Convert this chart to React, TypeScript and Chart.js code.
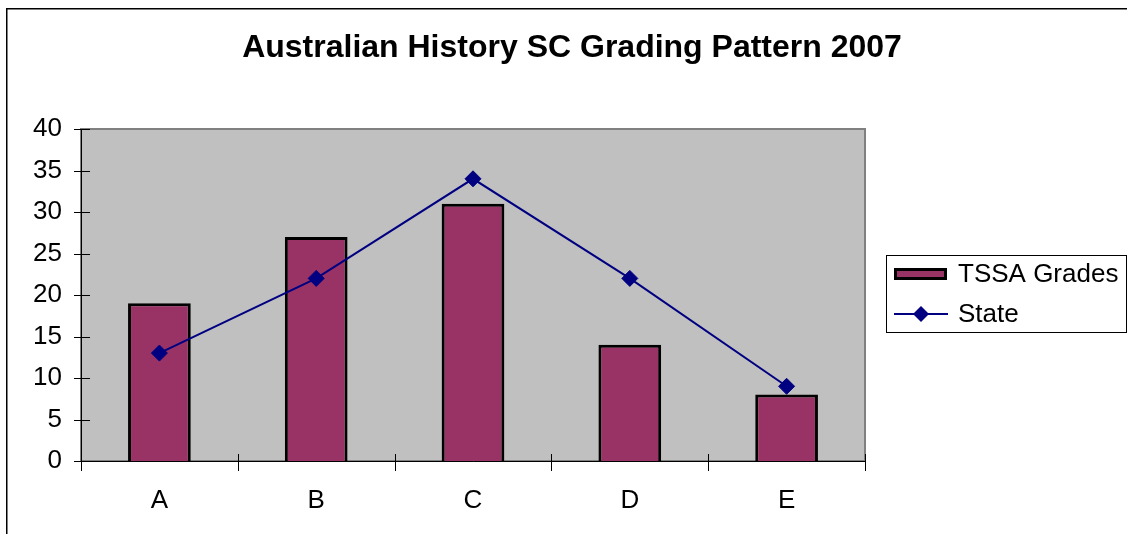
import React, { useEffect, useRef } from "react";
import { Chart, registerables } from "chart.js";

Chart.register(...registerables);

const TITLE = "Australian History SC Grading Pattern 2007";
const categories = ["A", "B", "C", "D", "E"];
const tssaGrades = [19, 27, 31, 14, 8];
const stateValues = [13, 22, 34, 22, 9];
const yTicks = [0, 5, 10, 15, 20, 25, 30, 35, 40];

const FONT = "'Liberation Sans', Arial, sans-serif";
const BAR_COLOR = "#993366";
const LINE_COLOR = "#000080";

const decorPlugin = {
  id: "decor",
  beforeDraw(chart: any) {
    const ctx = chart.ctx;
    const a = chart.chartArea;
    ctx.save();
    ctx.fillStyle = "#ffffff";
    ctx.fillRect(0, 0, chart.width, chart.height);
    // outer frame
    ctx.fillStyle = "#000000";
    ctx.fillRect(6, 8, 1.5, chart.height);
    ctx.fillRect(6, 8, chart.width, 1.5);
    // plot area
    ctx.fillStyle = "#C0C0C0";
    ctx.fillRect(a.left, a.top, a.right - a.left, a.bottom - a.top);
    ctx.strokeStyle = "#808080";
    ctx.lineWidth = 2;
    ctx.strokeRect(a.left, a.top, a.right - a.left, a.bottom - a.top);
    // title
    ctx.fillStyle = "#000000";
    ctx.font = `bold 32px ${FONT}`;
    ctx.textAlign = "center";
    ctx.textBaseline = "alphabetic";
    ctx.fillText(TITLE, 572, 57);
    ctx.restore();
  },
  afterDatasetsDraw(chart: any) {
    const ctx = chart.ctx;
    const a = chart.chartArea;
    const ys = chart.scales.y;
    const n = categories.length;
    ctx.save();
    ctx.strokeStyle = "#000000";
    ctx.lineWidth = 1;
    ctx.beginPath();
    ctx.moveTo(a.left + 0.5, a.top);
    ctx.lineTo(a.left + 0.5, a.bottom + 0.5);
    ctx.lineTo(a.right, a.bottom + 0.5);
    for (const v of yTicks) {
      const y = Math.round(ys.getPixelForValue(v)) + 0.5;
      ctx.moveTo(a.left - 7, y);
      ctx.lineTo(a.left + 9, y);
    }
    for (let i = 0; i <= n; i++) {
      const x = Math.round(a.left + (i * (a.right - a.left)) / n) + 0.5;
      ctx.moveTo(x, a.bottom - 7);
      ctx.lineTo(x, a.bottom + 10);
    }
    ctx.stroke();
    ctx.restore();
  },
  afterDraw(chart: any) {
    const ctx = chart.ctx;
    ctx.save();
    // legend box
    ctx.strokeStyle = "#000000";
    ctx.lineWidth = 1;
    ctx.strokeRect(886.5, 255.5, 240, 77);
    // bar swatch
    ctx.fillStyle = BAR_COLOR;
    ctx.fillRect(894, 268, 53, 12);
    ctx.lineWidth = 3;
    ctx.strokeRect(895.5, 269.5, 50, 9);
    // line swatch
    ctx.strokeStyle = LINE_COLOR;
    ctx.lineWidth = 2;
    ctx.beginPath();
    ctx.moveTo(894, 314);
    ctx.lineTo(948, 314);
    ctx.stroke();
    ctx.fillStyle = LINE_COLOR;
    ctx.beginPath();
    ctx.moveTo(921, 306);
    ctx.lineTo(929, 314);
    ctx.lineTo(921, 322);
    ctx.lineTo(913, 314);
    ctx.closePath();
    ctx.fill();
    // legend texts
    ctx.fillStyle = "#000000";
    ctx.font = `26px ${FONT}`;
    ctx.textAlign = "left";
    ctx.textBaseline = "middle";
    ctx.fillText("TSSA Grades", 958, 275);
    ctx.fillText("State", 958, 315);
    ctx.restore();
  },
};

export default function App() {
  const ref = useRef<HTMLCanvasElement | null>(null);
  useEffect(() => {
    if (!ref.current) return;
    const chart = new Chart(ref.current, {
      type: "bar",
      data: {
        labels: categories,
        datasets: [
          {
            type: "line",
            label: "State",
            data: stateValues,
            borderColor: LINE_COLOR,
            backgroundColor: LINE_COLOR,
            borderWidth: 2,
            pointStyle: "rectRot",
            pointRadius: 8,
            pointBackgroundColor: LINE_COLOR,
            pointBorderColor: LINE_COLOR,
            pointBorderWidth: 1,
            tension: 0,
            order: 1,
          } as any,
          {
            type: "bar",
            label: "TSSA Grades",
            data: tssaGrades,
            backgroundColor: BAR_COLOR,
            borderColor: "#000000",
            borderWidth: 3,
            barPercentage: 0.4,
            categoryPercentage: 1,
            order: 2,
          },
        ],
      },
      options: {
        animation: false,
        responsive: false,
        devicePixelRatio: 1,
        layout: { padding: { top: 129, right: 262, left: 0, bottom: 0 } },
        plugins: {
          legend: { display: false },
          title: { display: false },
          tooltip: { enabled: false },
        },
        scales: {
          x: {
            grid: { display: false, drawTicks: false },
            border: { display: false },
            ticks: {
              color: "#000000",
              font: { family: FONT, size: 26 },
              padding: 24,
            },
            afterFit(scale: any) {
              scale.height = 73;
            },
          },
          y: {
            min: 0,
            max: 40,
            grid: { display: false, drawTicks: false },
            border: { display: false },
            ticks: {
              stepSize: 5,
              color: "#000000",
              font: { family: FONT, size: 26 },
              padding: 19,
            },
            afterFit(scale: any) {
              scale.width = 81;
            },
          },
        },
      },
      plugins: [decorPlugin],
    });
    return () => chart.destroy();
  }, []);
  return (
    <div
      style={{
        position: "fixed",
        left: 0,
        top: 0,
        width: 1127,
        height: 534,
        background: "#fff",
      }}
    >
      <canvas ref={ref} width={1127} height={534} style={{ display: "block" }} />
    </div>
  );
}
